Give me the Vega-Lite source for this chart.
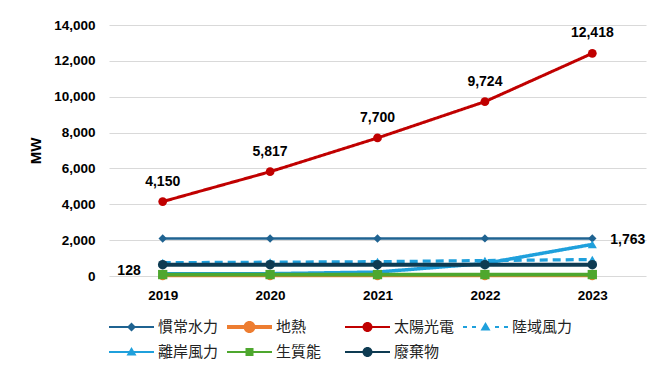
{
  "$schema": "https://vega.github.io/schema/vega-lite/v6.json",
  "width": 537,
  "height": 251,
  "padding": {"left": 28, "top": 18, "right": 18, "bottom": 10},
  "background": "white",
  "config": {
    "view": {"stroke": null},
    "font": "Liberation Sans, sans-serif",
    "axis": {"labelFont": "Liberation Sans, sans-serif", "labelFontWeight": "bold", "labelFontSize": 13.5, "labelColor": "#000000"}
  },
  "data": {
    "values": [
      {"year": "2019", "series": "慣常水力", "value": 2092},
      {"year": "2020", "series": "慣常水力", "value": 2093},
      {"year": "2021", "series": "慣常水力", "value": 2094},
      {"year": "2022", "series": "慣常水力", "value": 2095},
      {"year": "2023", "series": "慣常水力", "value": 2096},
      {"year": "2019", "series": "地熱", "value": 0.3},
      {"year": "2020", "series": "地熱", "value": 5},
      {"year": "2021", "series": "地熱", "value": 5},
      {"year": "2022", "series": "地熱", "value": 5},
      {"year": "2023", "series": "地熱", "value": 7},
      {"year": "2019", "series": "太陽光電", "value": 4150},
      {"year": "2020", "series": "太陽光電", "value": 5817},
      {"year": "2021", "series": "太陽光電", "value": 7700},
      {"year": "2022", "series": "太陽光電", "value": 9724},
      {"year": "2023", "series": "太陽光電", "value": 12418},
      {"year": "2019", "series": "陸域風力", "value": 740},
      {"year": "2020", "series": "陸域風力", "value": 770},
      {"year": "2021", "series": "陸域風力", "value": 800},
      {"year": "2022", "series": "陸域風力", "value": 860},
      {"year": "2023", "series": "陸域風力", "value": 920},
      {"year": "2019", "series": "離岸風力", "value": 128},
      {"year": "2020", "series": "離岸風力", "value": 128},
      {"year": "2021", "series": "離岸風力", "value": 220},
      {"year": "2022", "series": "離岸風力", "value": 700},
      {"year": "2023", "series": "離岸風力", "value": 1763},
      {"year": "2019", "series": "生質能", "value": 80},
      {"year": "2020", "series": "生質能", "value": 80},
      {"year": "2021", "series": "生質能", "value": 80},
      {"year": "2022", "series": "生質能", "value": 80},
      {"year": "2023", "series": "生質能", "value": 80},
      {"year": "2019", "series": "廢棄物", "value": 630},
      {"year": "2020", "series": "廢棄物", "value": 630},
      {"year": "2021", "series": "廢棄物", "value": 630},
      {"year": "2022", "series": "廢棄物", "value": 630},
      {"year": "2023", "series": "廢棄物", "value": 630}
    ]
  },
  "encoding": {
    "x": {
      "field": "year", "type": "ordinal",
      "scale": {"type": "point", "padding": 0.5},
      "axis": {"title": null, "labelAngle": 0, "ticks": false, "domain": false, "labelPadding": 12, "grid": false}
    },
    "y": {
      "field": "value", "type": "quantitative",
      "scale": {"domain": [0, 14000], "nice": false},
      "axis": {
        "title": "MW", "titleFontSize": 15, "titleFontWeight": "bold", "titleColor": "#000000",
        "titleFont": "Liberation Sans, sans-serif", "titlePadding": 10,
        "values": [0, 2000, 4000, 6000, 8000, 10000, 12000, 14000],
        "format": ",d", "ticks": false, "domain": false, "labelPadding": 14,
        "gridColor": "#d9d9d9", "gridWidth": 1
      }
    }
  },
  "resolve": {"scale": {"shape": "independent", "size": "independent"}, "legend": {"color": "independent", "shape": "independent"}},
  "layer": [
    {
      "mark": {"type": "line"},
      "encoding": {
        "color": {
          "field": "series", "type": "nominal", "legend": null,
          "scale": {
            "domain": ["慣常水力", "地熱", "太陽光電", "陸域風力", "離岸風力", "生質能", "廢棄物"],
            "range": ["#1f6391", "#ed7d31", "#c00000", "#1fa0dc", "#1fa0dc", "#4ea72e", "#0e3b52"]
          }
        },
        "strokeDash": {
          "field": "series", "type": "nominal", "legend": null,
          "scale": {
            "domain": ["慣常水力", "地熱", "太陽光電", "陸域風力", "離岸風力", "生質能", "廢棄物"],
            "range": [[1, 0], [1, 0], [1, 0], [8, 5], [1, 0], [1, 0], [1, 0]]
          }
        },
        "strokeWidth": {
          "field": "series", "type": "nominal", "legend": null,
          "scale": {
            "domain": ["慣常水力", "地熱", "太陽光電", "陸域風力", "離岸風力", "生質能", "廢棄物"],
            "range": [2.5, 4, 2.2, 2.2, 2.2, 2.5, 2.5]
          }
        }
      }
    },
    {
      "mark": {"type": "point", "filled": true, "opacity": 1, "strokeWidth": 0},
      "encoding": {
        "color": {"field": "series", "type": "nominal", "legend": null},
        "shape": {
          "field": "series", "type": "nominal", "legend": null,
          "scale": {
            "domain": ["慣常水力", "地熱", "太陽光電", "陸域風力", "離岸風力", "生質能", "廢棄物"],
            "range": ["diamond", "circle", "circle", "triangle-up", "triangle-up", "square", "circle"]
          }
        },
        "size": {
          "field": "series", "type": "nominal", "legend": null,
          "scale": {
            "domain": ["慣常水力", "地熱", "太陽光電", "陸域風力", "離岸風力", "生質能", "廢棄物"],
            "range": [70, 90, 90, 70, 70, 80, 95]
          }
        }
      }
    },
    {
      "mark": {"type": "point", "filled": true, "opacity": 1, "strokeWidth": 0, "clip": true, "size": 400},
      "encoding": {
        "y": {"datum": -5000},
        "color": {
          "field": "series", "type": "nominal",
          "legend": {
            "title": null, "orient": "bottom", "direction": "horizontal", "columns": 4,
            "gridAlign": "all", "columnPadding": 8, "rowPadding": 7, "offset": 15,
            "labelFont": "Noto Sans CJK TC", "labelFontSize": 15, "labelColor": "#222222",
            "labelOffset": 29, "symbolSize": 400, "symbolStrokeWidth": 0, "symbolOpacity": 1,
            "symbolLimit": 0
          }
        },
        "shape": {
          "field": "series", "type": "nominal",
          "scale": {
            "domain": ["慣常水力", "地熱", "太陽光電", "陸域風力", "離岸風力", "生質能", "廢棄物"],
            "range": [
              "M-1,-0.11H3.5V0.11H-1Z M1.25,-0.45L1.7,0L1.25,0.45L0.8,0Z",
              "M-1,-0.2H3.5V0.2H-1Z M0.65,0A0.6,0.6 0 1,1 1.85,0A0.6,0.6 0 1,1 0.65,0Z",
              "M-1,-0.11H3.5V0.11H-1Z M0.75,0A0.5,0.5 0 1,1 1.75,0A0.5,0.5 0 1,1 0.75,0Z",
              "M-1,-0.11H-0.6V0.11H-1Z M-0.1,-0.11H0.3V0.11H-0.1Z M2.2,-0.11H2.6V0.11H2.2Z M3.1,-0.11H3.5V0.11H3.1Z M1.25,-0.5L1.75,0.35L0.75,0.35Z",
              "M-1,-0.11H3.5V0.11H-1Z M1.25,-0.5L1.75,0.35L0.75,0.35Z",
              "M-1,-0.11H3.5V0.11H-1Z M0.85,-0.4H1.65V0.4H0.85Z",
              "M-1,-0.11H3.5V0.11H-1Z M0.75,0A0.5,0.5 0 1,1 1.75,0A0.5,0.5 0 1,1 0.75,0Z"
            ]
          }
        }
      }
    },
    {
      "transform": [{"filter": "datum.series === '太陽光電'"}],
      "mark": {"type": "text", "dy": -20, "fontWeight": "bold", "fontSize": 14, "font": "Liberation Sans, sans-serif"},
      "encoding": {"text": {"field": "value", "type": "quantitative", "format": ",d"}, "color": {"value": "#000000"}}
    },
    {
      "transform": [{"filter": "datum.series === '離岸風力' && datum.year === '2019'"}],
      "mark": {"type": "text", "dx": -22, "dy": -3, "align": "right", "fontWeight": "bold", "fontSize": 14, "font": "Liberation Sans, sans-serif"},
      "encoding": {"text": {"field": "value", "type": "quantitative", "format": ",d"}, "color": {"value": "#000000"}}
    },
    {
      "transform": [{"filter": "datum.series === '離岸風力' && datum.year === '2023'"}],
      "mark": {"type": "text", "dx": 18, "dy": -4, "align": "left", "fontWeight": "bold", "fontSize": 14, "font": "Liberation Sans, sans-serif"},
      "encoding": {"text": {"field": "value", "type": "quantitative", "format": ",d"}, "color": {"value": "#000000"}}
    }
  ]
}
